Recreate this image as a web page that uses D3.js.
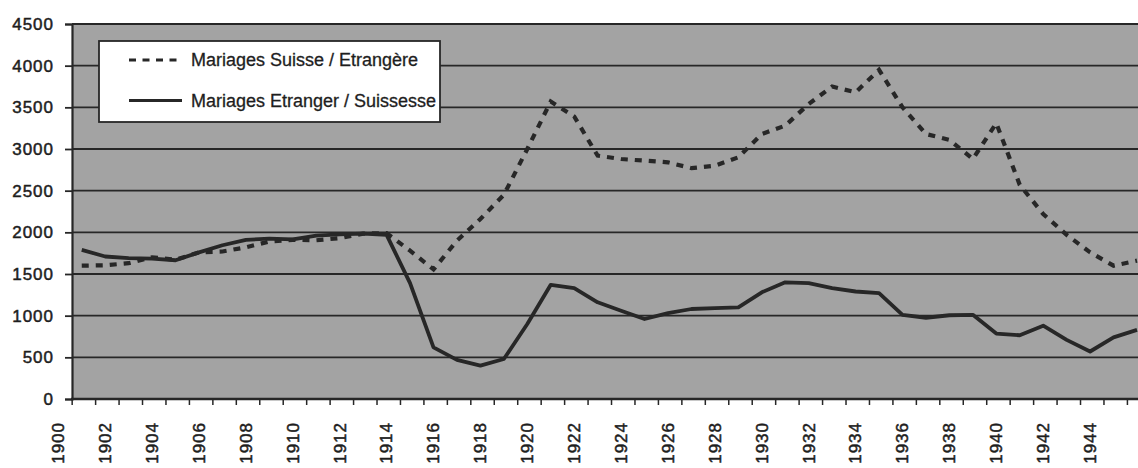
<!DOCTYPE html>
<html><head><meta charset="utf-8">
<script src="https://cdn.jsdelivr.net/npm/d3@7"></script>
<style>
body{margin:0;background:#fff;}
svg{display:block;font-family:"Liberation Sans",Arial,Helvetica,sans-serif;}
</style>
</head><body>
<svg id="chart" width="1138" height="468"></svg>
<script>
// ---- data ----
const years = [1901,1902,1903,1904,1905,1906,1907,1908,1909,1910,
  1911,1912,1913,1914,1915,1916,1917,1918,1919,1920,
  1921,1922,1923,1924,1925,1926,1927,1928,1929,1930,
  1931,1932,1933,1934,1935,1936,1937,1938,1939,1940,
  1941,1942,1943,1944,1945,1946];
const suisseEtrangere = [1600,1605,1630,1700,1670,1760,1770,1820,1890,1910,
  1905,1930,1985,1990,1780,1555,1900,2160,2450,3000,
  3570,3390,2920,2880,2860,2840,2770,2800,2900,3180,
  3280,3540,3750,3680,3950,3500,3180,3110,2880,3310,
  2570,2220,1970,1760,1600,1660];
const etrangerSuissesse = [1790,1710,1690,1685,1665,1760,1845,1910,1925,1915,
  1960,1975,1985,1970,1390,620,470,400,480,900,
  1370,1330,1160,1060,960,1030,1080,1090,1100,1280,
  1400,1390,1330,1290,1270,1010,975,1005,1010,785,
  765,880,710,570,740,830];
const yTicks = [0,500,1000,1500,2000,2500,3000,3500,4000,4500];
const xLabels = [1900,1902,1904,1906,1908,1910,1912,1914,1916,1918,1920,1922,
  1924,1926,1928,1930,1932,1934,1936,1938,1940,1942,1944];
const tickYears = [1900,1901,1902,1903,1904,1905,1906,1907,1908,1909,1910,1911,
  1912,1913,1914,1915,1916,1917,1918,1919,1920,1921,1922,1923,1924,1925,1926,
  1927,1928,1929,1930,1931,1932,1933,1934,1935,1936,1937,1938,1939,1940,1941,
  1942,1943,1944,1945];
const seriesNames = ["Mariages Suisse / Etrangère","Mariages Etranger / Suissesse"];

// ---- layout ----
const plotLeft = 72, plotRight = 1138, plotTop = 24, plotBottom = 399;
const ink = "#272727";
const textInk = "#1e1e1e";

const svg = d3.select("#chart");
const x = d3.scaleLinear().domain([1900, 1946]).range([58.3, 58.3 + 46 * 23.45]);
const y = d3.scaleLinear().domain([0, 4500]).range([plotBottom, plotTop]);

// plot background
svg.append("rect")
  .attr("x", plotLeft).attr("y", plotTop)
  .attr("width", plotRight - plotLeft).attr("height", plotBottom - plotTop)
  .attr("fill", "#a3a3a3");

// gridlines
svg.append("g").selectAll("line")
  .data(yTicks.filter(v => v > 0))
  .join("line")
  .attr("x1", plotLeft).attr("x2", plotRight)
  .attr("y1", d => y(d)).attr("y2", d => y(d))
  .attr("stroke", ink).attr("stroke-width", 1.8);

// y axis
const yAxis = svg.append("g")
  .attr("transform", `translate(${plotLeft},0)`)
  .call(d3.axisLeft(y).tickValues(yTicks).tickSize(7).tickPadding(11).tickFormat(d3.format("d")));
yAxis.select(".domain").attr("stroke", ink).attr("stroke-width", 2.2);
yAxis.selectAll(".tick line").attr("stroke", ink).attr("stroke-width", 1.8);
yAxis.selectAll(".tick text")
  .attr("fill", textInk).attr("stroke", textInk).attr("stroke-width", 0.5)
  .attr("font-size", 17).attr("letter-spacing", "1px")
  .attr("font-family", "'Liberation Sans', Arial, sans-serif");

// x axis ticks (between categories)
const xAxis = svg.append("g")
  .attr("transform", `translate(0,${plotBottom})`)
  .call(d3.axisBottom(x).tickValues(tickYears.map(t => t + 0.57)).tickSize(6).tickFormat(""));
xAxis.select(".domain").remove();
xAxis.selectAll(".tick line").attr("stroke", ink).attr("stroke-width", 1.5);
svg.append("line")
  .attr("x1", plotLeft - 1).attr("x2", plotRight)
  .attr("y1", plotBottom).attr("y2", plotBottom)
  .attr("stroke", ink).attr("stroke-width", 2.6);

// x labels rotated
svg.append("g").selectAll("text")
  .data(xLabels)
  .join("text")
  .attr("transform", d => `translate(${x(d) + 5.8},422) rotate(-90)`)
  .attr("text-anchor", "end")
  .attr("font-size", 17).attr("letter-spacing", "1px")
  .attr("fill", textInk).attr("stroke", textInk).attr("stroke-width", 0.5)
  .text(d => d);

// lines
const pts1 = years.map((yr, i) => ({yr, v: suisseEtrangere[i]}));
const pts2 = years.map((yr, i) => ({yr, v: etrangerSuissesse[i]}));
const line = d3.line().x(d => x(d.yr)).y(d => y(d.v));

svg.append("path").datum(pts1)
  .attr("d", line).attr("fill", "none")
  .attr("stroke", ink).attr("stroke-width", 4.2)
  .attr("stroke-dasharray", "7,7");
svg.append("path").datum(pts2)
  .attr("d", line).attr("fill", "none")
  .attr("stroke", ink).attr("stroke-width", 3.8)
  .attr("stroke-linejoin", "round");

// legend
const lg = svg.append("g");
lg.append("rect")
  .attr("x", 99).attr("y", 41).attr("width", 341).attr("height", 81)
  .attr("fill", "#fff").attr("stroke", ink).attr("stroke-width", 1.8);
lg.append("line").attr("x1", 129).attr("x2", 182).attr("y1", 60).attr("y2", 60)
  .attr("stroke", ink).attr("stroke-width", 3).attr("stroke-dasharray", "7,6.5");
lg.append("line").attr("x1", 129).attr("x2", 182).attr("y1", 100.5).attr("y2", 100.5)
  .attr("stroke", ink).attr("stroke-width", 3);
lg.selectAll("text.lbl").data(seriesNames).join("text")
  .attr("class", "lbl")
  .attr("x", 191).attr("y", (d, i) => 66 + i * 41)
  .attr("font-size", 18).attr("fill", textInk)
  .attr("stroke", textInk).attr("stroke-width", 0.3)
  .text(d => d);
</script>
</body></html>
